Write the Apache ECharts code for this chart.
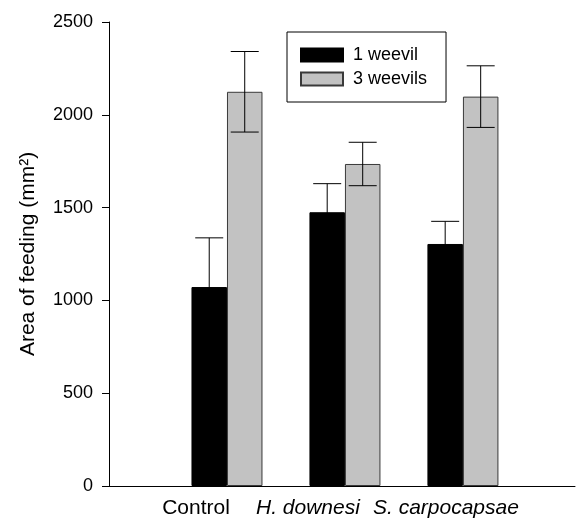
<!DOCTYPE html>
<html>
<head>
<meta charset="utf-8">
<script src="https://cdn.jsdelivr.net/npm/echarts@6/dist/echarts.min.js"></script>
<style>
  html, body { margin: 0; padding: 0; background: #fff; }
  #chart { width: 578px; height: 521px; }
</style>
</head>
<body>
<div id="chart"></div>
<script>
// treatments, placed at x = 1, 2, 3
const treatments = ["Control", "H. downesi", "S. carpocapsae"];
const positions = [1, 2, 3];

// area of feeding (mm2), mean and error
const oneWeevil = [1072, 1475, 1304];
const oneWeevilErr = [265, 154, 122];
const threeWeevils = [2124, 1735, 2098];
const threeWeevilsErr = [217, 117, 166];

const yTicks = [0, 500, 1000, 1500, 2000, 2500];

const font = "'Liberation Sans', Arial, Helvetica, sans-serif";
const barW = 35.5;

const chart = echarts.init(document.getElementById("chart"));

function errData(means, errs) {
  return positions.map((p, i) => [p, means[i] - errs[i], means[i] + errs[i]]);
}

function errRender(side) {
  return function (params, api) {
    const x = api.value(0);
    const lo = api.coord([x, api.value(1)]);
    const hi = api.coord([x, api.value(2)]);
    const cx = lo[0] + side * barW / 2;
    const cap = 14;
    const style = { stroke: "#000", lineWidth: 1 };
    return {
      type: "group",
      children: [
        { type: "line", shape: { x1: cx, y1: lo[1], x2: cx, y2: hi[1] }, style },
        { type: "line", shape: { x1: cx - cap, y1: hi[1], x2: cx + cap, y2: hi[1] }, style },
        { type: "line", shape: { x1: cx - cap, y1: lo[1], x2: cx + cap, y2: lo[1] }, style }
      ]
    };
  };
}

// right padding pushes each name left, like the original figure
const labelShift = [62, 74, 34];

let option = {
  animation: false,
  textStyle: { fontFamily: font },
  grid: { left: 109, right: 3, top: 22, bottom: 35 },
  legend: {
    orient: "vertical",
    left: 287,
    top: 32,
    padding: [14, 19, 14, 13],
    itemWidth: 42,
    itemHeight: 13,
    itemGap: 6,
    icon: "rect",
    borderColor: "#000",
    borderWidth: 1,
    backgroundColor: "#fff",
    textStyle: { fontSize: 18, color: "#000", fontFamily: font, padding: [0, 0, 0, 5] },
    data: ["1 weevil", "3 weevils"]
  },
  xAxis: {
    type: "value",
    min: 0,
    max: 3.95,
    interval: 1,
    splitLine: { show: false },
    axisTick: { show: false },
    axisLine: { lineStyle: { color: "#000", width: 1 } },
    axisLabel: {
      margin: 12,
      color: "#000",
      fontSize: 21,
      showMaxLabel: false,
      formatter: function (v) {
        const i = positions.indexOf(v);
        if (i < 0) return "";
        return "{t" + i + "|" + treatments[i] + "}";
      },
      rich: {
        t0: { fontSize: 21, color: "#000", padding: [0, labelShift[0], 0, 0] },
        t1: { fontSize: 21, color: "#000", fontStyle: "italic", padding: [0, labelShift[1], 0, 0] },
        t2: { fontSize: 21, color: "#000", fontStyle: "italic", padding: [0, labelShift[2], 0, 0] }
      }
    }
  },
  yAxis: {
    type: "value",
    min: yTicks[0],
    max: yTicks[yTicks.length - 1],
    interval: 500,
    name: "Area of feeding (mm²)",
    nameLocation: "middle",
    nameGap: 70,
    nameTextStyle: { fontSize: 21, color: "#000", fontFamily: font },
    splitLine: { show: false },
    axisLine: { show: true, lineStyle: { color: "#000", width: 1 } },
    axisTick: { show: true, inside: false, length: 7, lineStyle: { color: "#000" } },
    axisLabel: { margin: 16, color: "#000", fontSize: 18, formatter: v => String(v) }
  },
  series: [
    {
      name: "1 weevil",
      type: "bar",
      barWidth: barW,
      barGap: "0%",
      data: positions.map((p, i) => [p, oneWeevil[i]]),
      itemStyle: { color: "#000", borderColor: "#000", borderWidth: 1 }
    },
    {
      name: "3 weevils",
      type: "bar",
      barWidth: barW,
      barGap: "0%",
      data: positions.map((p, i) => [p, threeWeevils[i]]),
      itemStyle: { color: "#c2c2c2", borderColor: "#3a3a3a", borderWidth: 1 }
    },
    {
      type: "custom",
      renderItem: errRender(-1),
      data: errData(oneWeevil, oneWeevilErr),
      z: 5,
      silent: true
    },
    {
      type: "custom",
      renderItem: errRender(1),
      data: errData(threeWeevils, threeWeevilsErr),
      z: 5,
      silent: true
    }
  ]
};

chart.setOption(option);
</script>
</body>
</html>
